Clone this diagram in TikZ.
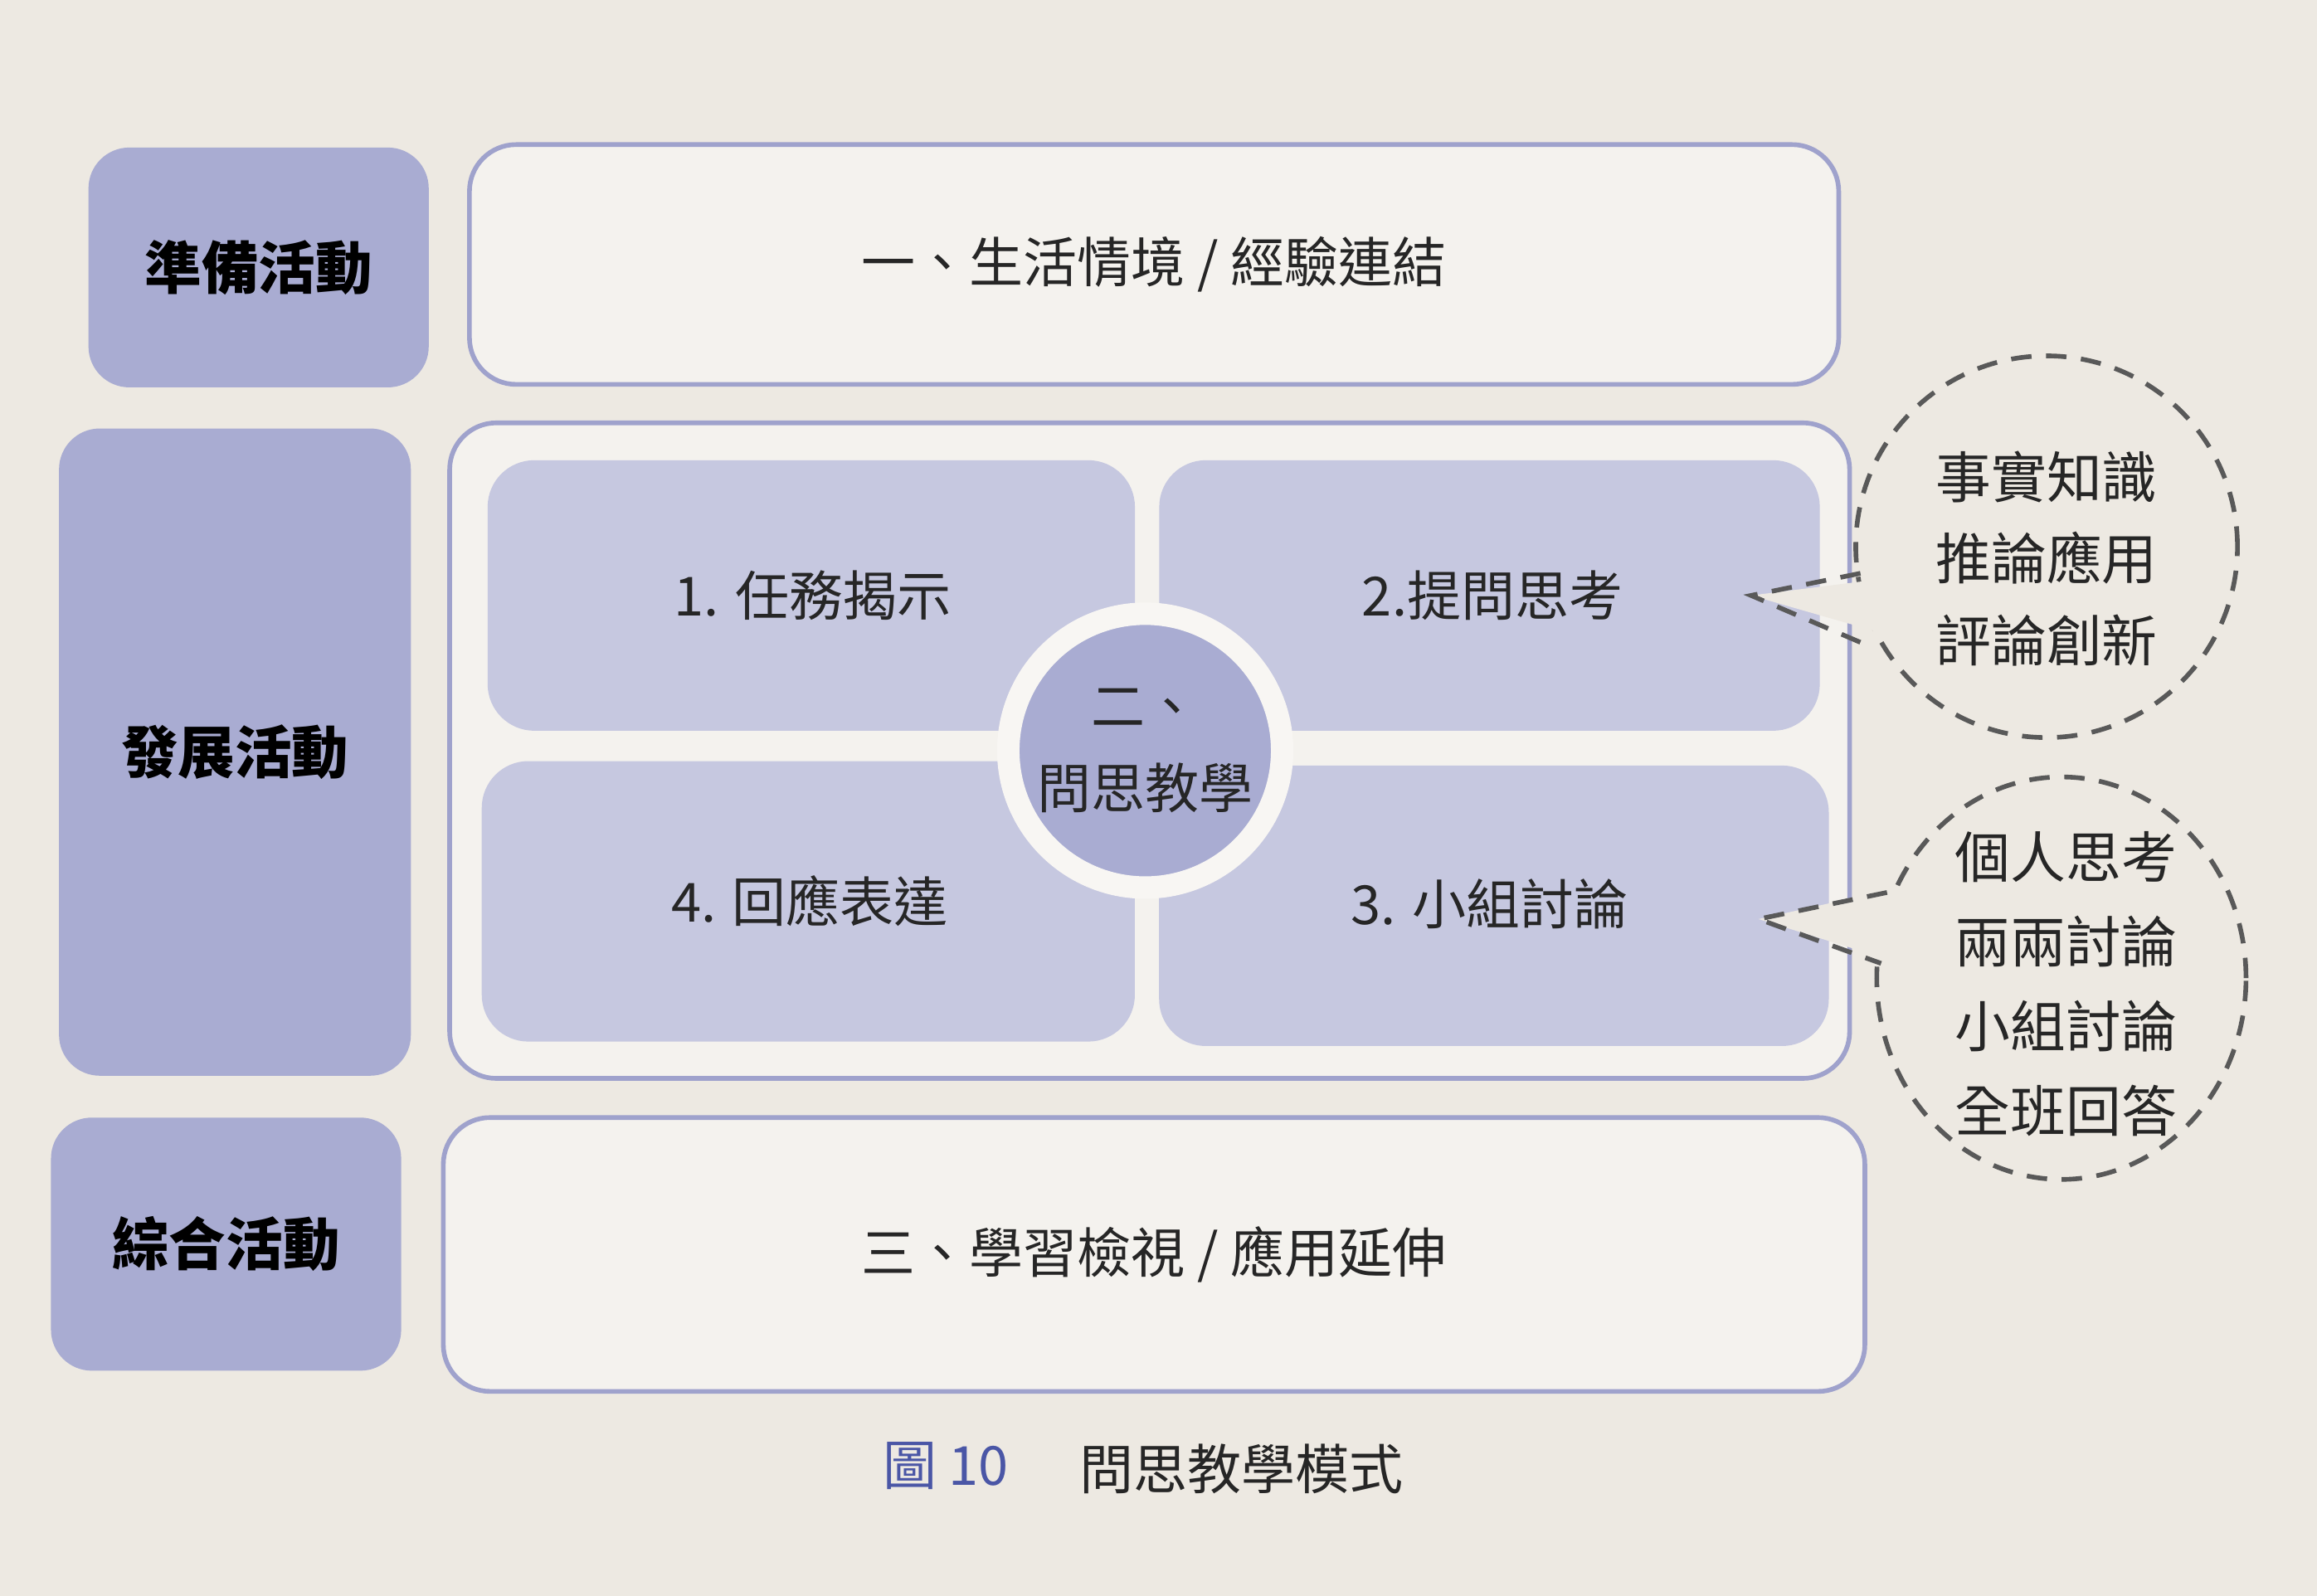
\documentclass[tikz,border=0pt]{standalone}
\usepackage{fontspec}
\setmainfont{Noto Sans CJK TC}
\usetikzlibrary{shapes.geometric}
\definecolor{paper}{HTML}{EDE9E2}
\definecolor{lav}{HTML}{A9ACD2}
\definecolor{lavlight}{HTML}{C6C8E0}
\definecolor{lavline}{HTML}{9FA2CC}
\definecolor{capblue}{HTML}{4A56A6}
\tikzset{
  stagebox/.style={rectangle, rounded corners=14pt, fill=lav, font=\bfseries\fontsize{19.5}{23}\selectfont},
  framebox/.style={rectangle, rounded corners=16pt, draw=lavline, line width=1.6pt, fill=white!40!paper},
  quadbox/.style={rectangle, rounded corners=16pt, fill=lavlight},
  body/.style={font=\fontsize{18.5}{24}\selectfont, text=black!85, align=center},
  bubble/.style={line width=1.6pt, draw=black!65, dash pattern=on 7pt off 5pt}
}
\begin{document}
\begin{tikzpicture}[x=0.01781cm, y=-0.01781cm]
  \fill[paper] (0,0) rectangle (1568,1080);

  % stage labels
  \node[stagebox, minimum width=4.1cm, minimum height=2.89cm] (prep) at (175,181) {準備活動};
  \node[stagebox, minimum width=4.24cm, minimum height=7.8cm] (dev) at (159,509) {發展活動};
  \node[stagebox, minimum width=4.22cm, minimum height=3.05cm] (sum) at (153,842) {綜合活動};

  % frames
  \node[framebox, minimum width=16.5cm, minimum height=2.89cm] (row1) at (781,179) {};
  \node[framebox, minimum width=16.87cm, minimum height=7.9cm] (row2) at (778,508) {};
  \node[framebox, minimum width=17.13cm, minimum height=3.3cm] (row3) at (781,849) {};
  \node[body] at (row1.center) {一、生活情境 / 經驗連結};
  \node[body] at (row3.center) {三、學習檢視 / 應用延伸};

  % quadrants
  \node[quadbox, minimum width=7.8cm, minimum height=3.26cm] (q1) at (549,403) {};
  \node[quadbox, minimum width=7.96cm, minimum height=3.26cm] (q2) at (1008,403) {};
  \node[quadbox, minimum width=7.87cm, minimum height=3.38cm] (q4) at (547,610) {};
  \node[quadbox, minimum width=8.07cm, minimum height=3.38cm] (q3) at (1011,613) {};
  \node[body] at (550,403) {1. 任務揭示};
  \node[body] at (1010,403) {2.提問思考};
  \node[body] at (548,610) {4. 回應表達};
  \node[body] at (1008,612) {3. 小組討論};

  % centre
  \node[circle, fill=lav, draw=paper!40!white, line width=0.27cm, minimum size=3.3cm] (core) at (775,508) {};
  \node[body, font=\fontsize{18.5}{28}\selectfont] at (core.center) {二、\\問思教學};

  % bubbles
  \node[ellipse, bubble, minimum width=4.6cm, minimum height=4.6cm] (bub1) at (1385,370) {};
  \fill[paper] (1272,392) -- (1185,403) -- (1272,428) -- (1300,410) -- cycle;
  \coordinate (tip1) at (1185,403);
  \draw[bubble] (1259,388) -- (tip1) -- (1262,436);
  \node[body, font=\fontsize{19}{28}\selectfont] at (1385,378) {事實知識\\推論應用\\評論創新};

  \node[ellipse, bubble, minimum width=4.45cm, minimum height=4.85cm] (bub2) at (1395,662) {};
  \fill[paper] (1280,602) -- (1190,622) -- (1280,650) -- (1310,625) -- cycle;
  \coordinate (tip2) at (1190,622);
  \draw[bubble] (1277,604) -- (tip2) -- (1273,652);
  \node[body, font=\fontsize{19}{29}\selectfont] at (1398,666) {個人思考\\兩兩討論\\小組討論\\全班回答};

  % caption
  \node[font=\fontsize{18.5}{22}\selectfont, text=capblue] (fignum) at (640,992) {圖 10};
  \node[font=\fontsize{18.5}{22}\selectfont, text=black!85] (figname) at (840,994) {問思教學模式};
\end{tikzpicture}
\end{document}
